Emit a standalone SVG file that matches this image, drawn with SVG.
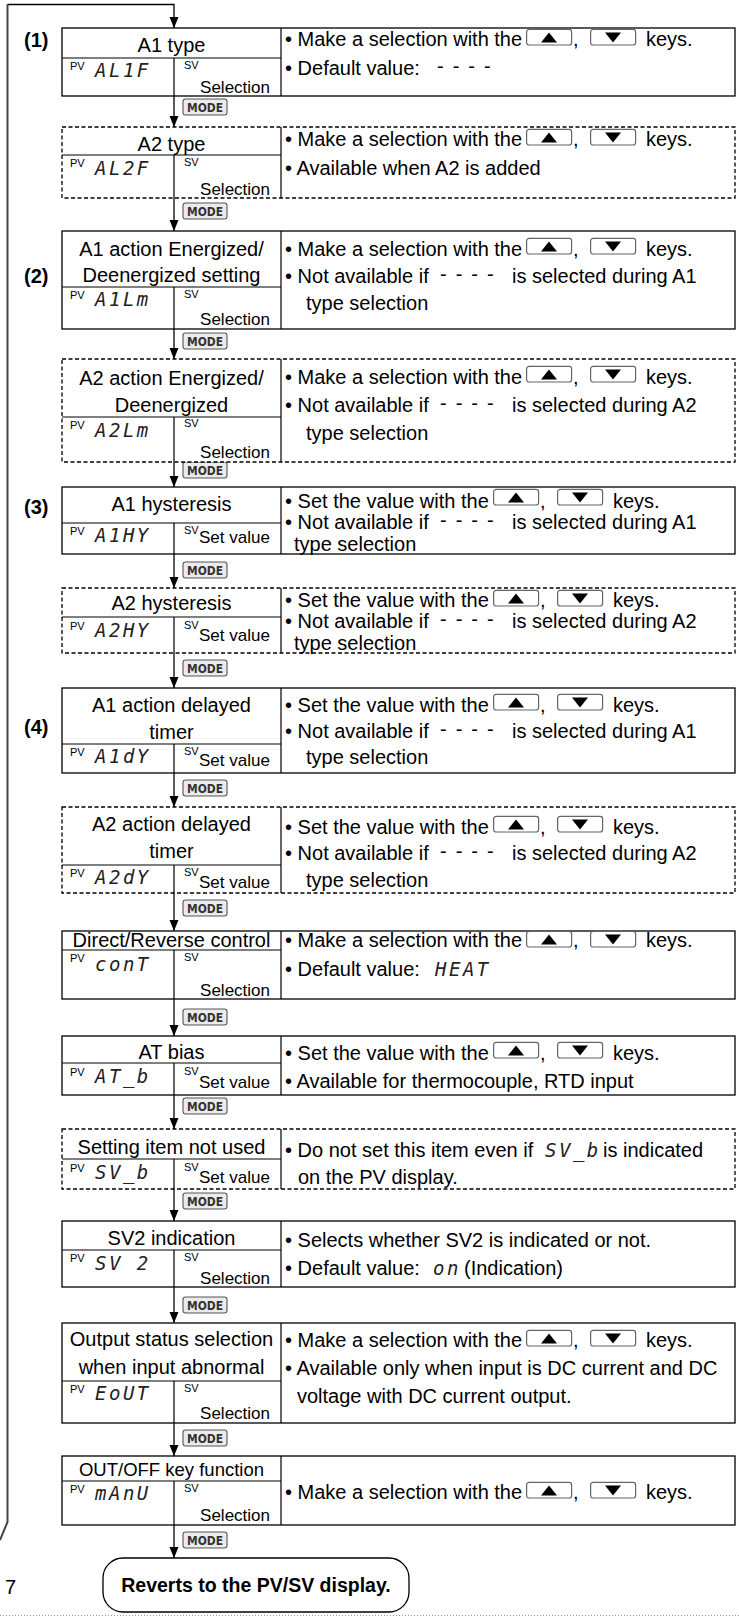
<svg xmlns="http://www.w3.org/2000/svg" xmlns:xlink="http://www.w3.org/1999/xlink" width="739" height="1618" viewBox="0 0 739 1618">
<style>
.t{font-family:'Liberation Sans',Arial,sans-serif;font-size:20px;fill:#000}
.c{text-anchor:middle}
.r{text-anchor:end}
.sm{font-family:'Liberation Sans',Arial,sans-serif;font-size:11px;fill:#000}
.sel{font-family:'Liberation Sans',Arial,sans-serif;font-size:17px;fill:#000}
.seg{font-family:'DejaVu Sans Mono',monospace;font-style:oblique;font-size:19px;letter-spacing:2.5px;fill:#222}
.b{font-family:'Liberation Sans',Arial,sans-serif;font-weight:bold;font-size:20px;fill:#000}
.box{fill:#fff;stroke:#000;stroke-width:1.3}
.dbox{fill:#fff;stroke:#000;stroke-width:1.3;stroke-dasharray:4 2.5}
.ln{stroke:#000;stroke-width:1.2;fill:none}
.mk{fill:#ebebeb;stroke:#555;stroke-width:1.1}
.mt{font-family:'DejaVu Sans Condensed','Liberation Sans',sans-serif;font-weight:bold;font-size:13px;fill:#333;text-anchor:middle}
.dash{letter-spacing:9px}
.con{stroke:#000;stroke-width:1.3;fill:none}
</style>
<defs>
<g id="ku"><rect x="0.6" y="-0.6" width="45" height="15.6" rx="2.5" fill="#fff" stroke="#666" stroke-width="1.2"/><polygon points="15,12.4 31,12.4 23,2.4" fill="#000"/></g>
<g id="kd"><rect x="0.6" y="-0.6" width="45" height="15.6" rx="2.5" fill="#fff" stroke="#666" stroke-width="1.2"/><polygon points="15,2.4 31,2.4 23,12.4" fill="#000"/></g>
<marker id="ah" viewBox="0 0 11 10" refX="11" refY="5" markerWidth="11" markerHeight="10" markerUnits="userSpaceOnUse" orient="auto"><path d="M0,0.5 L11,5 L0,9.5 z" fill="#000"/></marker>
</defs>
<rect width="739" height="1618" fill="#fff"/>

<g id="connectors">
<path d="M0,1540 L7.5,1522 L7.5,4.5" stroke="#444" stroke-width="2" fill="none"/>
<path class="con" d="M7.5,4.5 H174 V28" marker-end="url(#ah)"/>
<line class="con" x1="174" y1="96" x2="174" y2="127" marker-end="url(#ah)"/>
<line class="con" x1="174" y1="198" x2="174" y2="231" marker-end="url(#ah)"/>
<line class="con" x1="174" y1="329" x2="174" y2="359" marker-end="url(#ah)"/>
<line class="con" x1="174" y1="462" x2="174" y2="487" marker-end="url(#ah)"/>
<line class="con" x1="174" y1="554" x2="174" y2="588" marker-end="url(#ah)"/>
<line class="con" x1="174" y1="653" x2="174" y2="688" marker-end="url(#ah)"/>
<line class="con" x1="174" y1="773" x2="174" y2="807" marker-end="url(#ah)"/>
<line class="con" x1="174" y1="893" x2="174" y2="931" marker-end="url(#ah)"/>
<line class="con" x1="174" y1="999" x2="174" y2="1036" marker-end="url(#ah)"/>
<line class="con" x1="174" y1="1095" x2="174" y2="1129" marker-end="url(#ah)"/>
<line class="con" x1="174" y1="1189" x2="174" y2="1221" marker-end="url(#ah)"/>
<line class="con" x1="174" y1="1287" x2="174" y2="1323" marker-end="url(#ah)"/>
<line class="con" x1="174" y1="1423" x2="174" y2="1456" marker-end="url(#ah)"/>
<line class="con" x1="174" y1="1525" x2="174" y2="1558" marker-end="url(#ah)"/>
<g id="mode-keys">
<rect class="mk" x="183" y="99" width="44" height="16" rx="2.5"/><text class="mt" x="205" y="112" textLength="36" lengthAdjust="spacingAndGlyphs">MODE</text>
<rect class="mk" x="183" y="203" width="44" height="16" rx="2.5"/><text class="mt" x="205" y="216" textLength="36" lengthAdjust="spacingAndGlyphs">MODE</text>
<rect class="mk" x="183" y="333" width="44" height="16" rx="2.5"/><text class="mt" x="205" y="346" textLength="36" lengthAdjust="spacingAndGlyphs">MODE</text>
<rect class="mk" x="183" y="462" width="44" height="16" rx="2.5"/><text class="mt" x="205" y="475" textLength="36" lengthAdjust="spacingAndGlyphs">MODE</text>
<rect class="mk" x="183" y="562" width="44" height="16" rx="2.5"/><text class="mt" x="205" y="575" textLength="36" lengthAdjust="spacingAndGlyphs">MODE</text>
<rect class="mk" x="183" y="660" width="44" height="16" rx="2.5"/><text class="mt" x="205" y="673" textLength="36" lengthAdjust="spacingAndGlyphs">MODE</text>
<rect class="mk" x="183" y="780" width="44" height="16" rx="2.5"/><text class="mt" x="205" y="793" textLength="36" lengthAdjust="spacingAndGlyphs">MODE</text>
<rect class="mk" x="183" y="900" width="44" height="16" rx="2.5"/><text class="mt" x="205" y="913" textLength="36" lengthAdjust="spacingAndGlyphs">MODE</text>
<rect class="mk" x="183" y="1009" width="44" height="16" rx="2.5"/><text class="mt" x="205" y="1022" textLength="36" lengthAdjust="spacingAndGlyphs">MODE</text>
<rect class="mk" x="183" y="1098" width="44" height="16" rx="2.5"/><text class="mt" x="205" y="1111" textLength="36" lengthAdjust="spacingAndGlyphs">MODE</text>
<rect class="mk" x="183" y="1193" width="44" height="16" rx="2.5"/><text class="mt" x="205" y="1206" textLength="36" lengthAdjust="spacingAndGlyphs">MODE</text>
<rect class="mk" x="183" y="1297" width="44" height="16" rx="2.5"/><text class="mt" x="205" y="1310" textLength="36" lengthAdjust="spacingAndGlyphs">MODE</text>
<rect class="mk" x="183" y="1430" width="44" height="16" rx="2.5"/><text class="mt" x="205" y="1443" textLength="36" lengthAdjust="spacingAndGlyphs">MODE</text>
<rect class="mk" x="183" y="1532" width="44" height="16" rx="2.5"/><text class="mt" x="205" y="1545" textLength="36" lengthAdjust="spacingAndGlyphs">MODE</text>
</g>
</g>

<g id="labels">
<text class="b" x="24" y="47">(1)</text>
<text class="b" x="24" y="283">(2)</text>
<text class="b" x="24" y="514">(3)</text>
<text class="b" x="24" y="734">(4)</text>
<text class="t" x="5" y="1594">7</text>
</g>

<!-- Box 1 -->
<g id="n-a1-type">
<rect class="box" x="62" y="28" width="673" height="68"/>
<path class="ln" d="M281,28 V96 M62,58 H281 M174,58 V96"/>
<text class="t c" x="171.5" y="52">A1 type</text>
<text class="sm" x="70" y="70">PV</text><text class="seg" x="95" y="77">AL1F</text>
<text class="sm" x="184" y="69">SV</text><text class="sel r" x="270" y="93">Selection</text>
<text class="t" x="285" y="46">• Make a selection with the<tspan x="573">,</tspan><tspan x="646">keys.</tspan></text>
<use xlink:href="#ku" x="526" y="30"/><use xlink:href="#kd" x="590" y="30"/>
<text class="t" x="285" y="75">• Default value:<tspan class="dash" x="437" dy="-2">----</tspan></text>
</g>

<!-- Box 2 -->
<g id="n-a2-type">
<rect class="dbox" x="62" y="127" width="673" height="71"/>
<path class="ln" d="M281,127 V198 M62,155 H281 M174,155 V198"/>
<text class="t c" x="171.5" y="151">A2 type</text>
<text class="sm" x="70" y="167">PV</text><text class="seg" x="95" y="175">AL2F</text>
<text class="sm" x="184" y="166">SV</text><text class="sel r" x="270" y="195">Selection</text>
<text class="t" x="285" y="146">• Make a selection with the<tspan x="573">,</tspan><tspan x="646">keys.</tspan></text>
<use xlink:href="#ku" x="526" y="130"/><use xlink:href="#kd" x="590" y="130"/>
<text class="t" x="285" y="175">• Available when A2 is added</text>
</g>

<!-- Box 3 -->
<g id="n-a1-action">
<rect class="box" x="62" y="231" width="673" height="98"/>
<path class="ln" d="M281,231 V329 M62,287 H281 M174,287 V329"/>
<text class="t c" x="171.5" y="256">A1 action Energized/</text>
<text class="t c" x="171.5" y="282">Deenergized setting</text>
<text class="sm" x="70" y="299">PV</text><text class="seg" x="95" y="306">A1Lm</text>
<text class="sm" x="184" y="298">SV</text><text class="sel r" x="270" y="325">Selection</text>
<text class="t" x="285" y="256">• Make a selection with the<tspan x="573">,</tspan><tspan x="646">keys.</tspan></text>
<use xlink:href="#ku" x="526" y="239"/><use xlink:href="#kd" x="590" y="239"/>
<text class="t" x="285" y="283">• Not available if<tspan class="dash" x="440" dy="-2">----</tspan><tspan x="512" dy="2">is selected during A1</tspan></text>
<text class="t" x="306" y="310">type selection</text>
</g>

<!-- Box 4 -->
<g id="n-a2-action">
<rect class="dbox" x="62" y="359" width="673" height="103"/>
<path class="ln" d="M281,359 V462 M62,417 H281 M174,417 V462"/>
<text class="t c" x="171.5" y="385">A2 action Energized/</text>
<text class="t c" x="171.5" y="412">Deenergized</text>
<text class="sm" x="70" y="429">PV</text><text class="seg" x="95" y="437">A2Lm</text>
<text class="sm" x="184" y="427">SV</text><text class="sel r" x="270" y="458">Selection</text>
<text class="t" x="285" y="384">• Make a selection with the<tspan x="573">,</tspan><tspan x="646">keys.</tspan></text>
<use xlink:href="#ku" x="526" y="367"/><use xlink:href="#kd" x="590" y="367"/>
<text class="t" x="285" y="412">• Not available if<tspan class="dash" x="440" dy="-2">----</tspan><tspan x="512" dy="2">is selected during A2</tspan></text>
<text class="t" x="306" y="440">type selection</text>
</g>

<!-- Box 5 -->
<g id="n-a1-hys">
<rect class="box" x="62" y="487" width="673" height="67"/>
<path class="ln" d="M281,487 V554 M62,523 H281 M174,523 V554"/>
<text class="t c" x="171.5" y="511">A1 hysteresis</text>
<text class="sm" x="70" y="535">PV</text><text class="seg" x="95" y="542">A1HY</text>
<text class="sm" x="184" y="534">SV</text><text class="sel" x="199" y="543">Set value</text>
<text class="t" x="285" y="508">• Set the value with the<tspan x="540">,</tspan><tspan x="613">keys.</tspan></text>
<use xlink:href="#ku" x="493" y="490"/><use xlink:href="#kd" x="557" y="490"/>
<text class="t" x="285" y="529">• Not available if<tspan class="dash" x="440" dy="-2">----</tspan><tspan x="512" dy="2">is selected during A1</tspan></text>
<text class="t" x="294" y="551">type selection</text>
</g>

<!-- Box 6 -->
<g id="n-a2-hys">
<rect class="dbox" x="62" y="588" width="673" height="65"/>
<path class="ln" d="M281,588 V653 M62,617 H281 M174,617 V653"/>
<text class="t c" x="171.5" y="610">A2 hysteresis</text>
<text class="sm" x="70" y="630">PV</text><text class="seg" x="95" y="637">A2HY</text>
<text class="sm" x="184" y="629">SV</text><text class="sel" x="199" y="641">Set value</text>
<text class="t" x="285" y="607">• Set the value with the<tspan x="540">,</tspan><tspan x="613">keys.</tspan></text>
<use xlink:href="#ku" x="493" y="591"/><use xlink:href="#kd" x="557" y="591"/>
<text class="t" x="285" y="628">• Not available if<tspan class="dash" x="440" dy="-2">----</tspan><tspan x="512" dy="2">is selected during A2</tspan></text>
<text class="t" x="294" y="650">type selection</text>
</g>

<!-- Box 7 -->
<g id="n-a1-delay">
<rect class="box" x="62" y="688" width="673" height="85"/>
<path class="ln" d="M281,688 V773 M62,744 H281 M174,744 V773"/>
<text class="t c" x="171.5" y="712">A1 action delayed</text>
<text class="t c" x="171.5" y="739">timer</text>
<text class="sm" x="70" y="756">PV</text><text class="seg" x="95" y="763">A1dY</text>
<text class="sm" x="184" y="755">SV</text><text class="sel" x="199" y="766">Set value</text>
<text class="t" x="285" y="712">• Set the value with the<tspan x="540">,</tspan><tspan x="613">keys.</tspan></text>
<use xlink:href="#ku" x="493" y="695"/><use xlink:href="#kd" x="557" y="695"/>
<text class="t" x="285" y="738">• Not available if<tspan class="dash" x="440" dy="-2">----</tspan><tspan x="512" dy="2">is selected during A1</tspan></text>
<text class="t" x="306" y="764">type selection</text>
</g>

<!-- Box 8 -->
<g id="n-a2-delay">
<rect class="dbox" x="62" y="807" width="673" height="86"/>
<path class="ln" d="M281,807 V893 M62,865 H281 M174,865 V893"/>
<text class="t c" x="171.5" y="831">A2 action delayed</text>
<text class="t c" x="171.5" y="858">timer</text>
<text class="sm" x="70" y="877">PV</text><text class="seg" x="95" y="884">A2dY</text>
<text class="sm" x="184" y="876">SV</text><text class="sel" x="199" y="888">Set value</text>
<text class="t" x="285" y="834">• Set the value with the<tspan x="540">,</tspan><tspan x="613">keys.</tspan></text>
<use xlink:href="#ku" x="493" y="817"/><use xlink:href="#kd" x="557" y="817"/>
<text class="t" x="285" y="860">• Not available if<tspan class="dash" x="440" dy="-2">----</tspan><tspan x="512" dy="2">is selected during A2</tspan></text>
<text class="t" x="306" y="887">type selection</text>
</g>

<!-- Box 9 -->
<g id="n-direct-reverse">
<rect class="box" x="62" y="931" width="673" height="68"/>
<path class="ln" d="M281,931 V999 M62,950 H281 M174,950 V999"/>
<text class="t c" x="171.5" y="947">Direct/Reverse control</text>
<text class="sm" x="70" y="962">PV</text><text class="seg" x="95" y="971">conT</text>
<text class="sm" x="184" y="961">SV</text><text class="sel r" x="270" y="996">Selection</text>
<text class="t" x="285" y="947">• Make a selection with the<tspan x="573">,</tspan><tspan x="646">keys.</tspan></text>
<use xlink:href="#ku" x="526" y="932"/><use xlink:href="#kd" x="590" y="932"/>
<text class="t" x="285" y="976">• Default value:<tspan class="seg" x="435">HEAT</tspan></text>
</g>

<!-- Box 10 -->
<g id="n-at-bias">
<rect class="box" x="62" y="1036" width="673" height="59"/>
<path class="ln" d="M281,1036 V1095 M62,1063 H281 M174,1063 V1095"/>
<text class="t c" x="171.5" y="1059">AT bias</text>
<text class="sm" x="70" y="1076">PV</text><text class="seg" x="95" y="1083">AT_b</text>
<text class="sm" x="184" y="1075">SV</text><text class="sel" x="199" y="1088">Set value</text>
<text class="t" x="285" y="1060">• Set the value with the<tspan x="540">,</tspan><tspan x="613">keys.</tspan></text>
<use xlink:href="#ku" x="493" y="1043"/><use xlink:href="#kd" x="557" y="1043"/>
<text class="t" x="285" y="1088">• Available for thermocouple, RTD input</text>
</g>

<!-- Box 11 -->
<g id="n-not-used">
<rect class="dbox" x="62" y="1129" width="673" height="60"/>
<path class="ln" d="M281,1129 V1189 M62,1159 H281 M174,1159 V1189"/>
<text class="t c" x="171.5" y="1154">Setting item not used</text>
<text class="sm" x="70" y="1172">PV</text><text class="seg" x="95" y="1179">SV_b</text>
<text class="sm" x="184" y="1171">SV</text><text class="sel" x="199" y="1183">Set value</text>
<text class="t" x="285" y="1157">• Do not set this item even if<tspan class="seg" x="545">SV_b</tspan><tspan x="603">is indicated</tspan></text>
<text class="t" x="298" y="1184">on the PV display.</text>
</g>

<!-- Box 12 -->
<g id="n-sv2">
<rect class="box" x="62" y="1221" width="673" height="66"/>
<path class="ln" d="M281,1221 V1287 M62,1250 H281 M174,1250 V1287"/>
<text class="t c" x="171.5" y="1245">SV2 indication</text>
<text class="sm" x="70" y="1262">PV</text><text class="seg" x="95" y="1270">SV 2</text>
<text class="sm" x="184" y="1261">SV</text><text class="sel r" x="270" y="1284">Selection</text>
<text class="t" x="285" y="1247">• Selects whether SV2 is indicated or not.</text>
<text class="t" x="285" y="1275">• Default value:<tspan class="seg" x="433">on</tspan><tspan x="464">(Indication)</tspan></text>
</g>

<!-- Box 13 -->
<g id="n-output-status">
<rect class="box" x="62" y="1323" width="673" height="100"/>
<path class="ln" d="M281,1323 V1423 M62,1381 H281 M174,1381 V1423"/>
<text class="t c" x="171.5" y="1346">Output status selection</text>
<text class="t c" x="171.5" y="1374">when input abnormal</text>
<text class="sm" x="70" y="1393">PV</text><text class="seg" x="95" y="1400">EoUT</text>
<text class="sm" x="184" y="1392">SV</text><text class="sel r" x="270" y="1419">Selection</text>
<text class="t" x="285" y="1347">• Make a selection with the<tspan x="573">,</tspan><tspan x="646">keys.</tspan></text>
<use xlink:href="#ku" x="526" y="1331"/><use xlink:href="#kd" x="590" y="1331"/>
<text class="t" x="285" y="1375">• Available only when input is DC current and DC</text>
<text class="t" x="297" y="1403">voltage with DC current output.</text>
</g>

<!-- Box 14 -->
<g id="n-out-off">
<rect class="box" x="62" y="1456" width="673" height="69"/>
<path class="ln" d="M281,1456 V1525 M62,1481 H281 M174,1481 V1525"/>
<text class="t c" x="171.5" y="1476" style="font-size:18.5px">OUT/OFF key function</text>
<text class="sm" x="70" y="1493">PV</text><text class="seg" x="95" y="1500">mAnU</text>
<text class="sm" x="184" y="1492">SV</text><text class="sel r" x="270" y="1521">Selection</text>
<text class="t" x="285" y="1499">• Make a selection with the<tspan x="573">,</tspan><tspan x="646">keys.</tspan></text>
<use xlink:href="#ku" x="526" y="1483"/><use xlink:href="#kd" x="590" y="1483"/>
</g>

<!-- End -->
<g id="n-revert">
<rect x="103" y="1558" width="306" height="54" rx="20" fill="#fff" stroke="#000" stroke-width="1.3"/>
<text class="b c" x="256" y="1592" style="font-size:19.5px">Reverts to the PV/SV display.</text>
</g>

<line x1="0" y1="1615.5" x2="739" y2="1615.5" stroke="#999" stroke-width="1" stroke-dasharray="1 2"/>
</svg>
